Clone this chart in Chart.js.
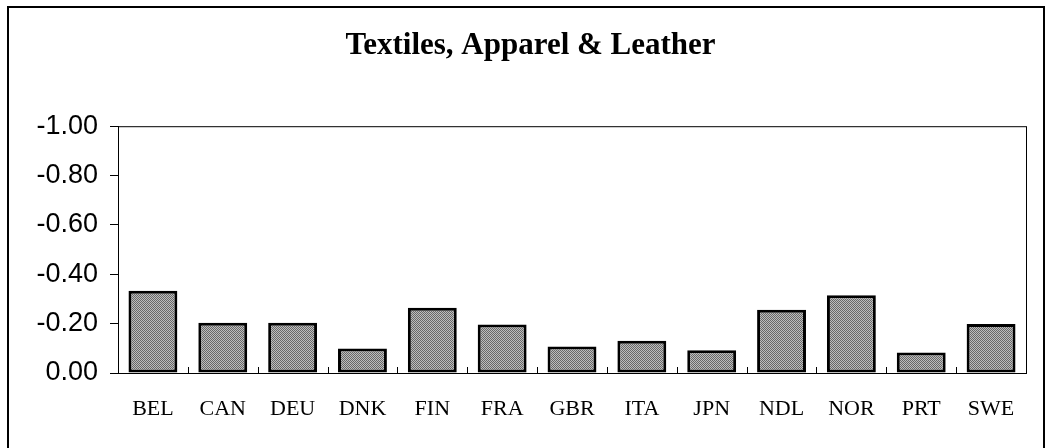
<!DOCTYPE html>
<html>
<head>
<meta charset="utf-8">
<script src="https://cdn.jsdelivr.net/npm/chart.js@4.4.0/dist/chart.umd.min.js"></script>
<style>
  html, body { margin: 0; padding: 0; background: #fff; }
  #wrap { width: 1047px; height: 448px; }
</style>
</head>
<body>
<div id="wrap"><canvas id="chart" width="1047" height="448"></canvas></div>
<script>
// datos del grafico
const countries = ['BEL', 'CAN', 'DEU', 'DNK', 'FIN', 'FRA', 'GBR', 'ITA', 'JPN', 'NDL', 'NOR', 'PRT', 'SWE'];
const values = [-0.333, -0.204, -0.204, -0.099, -0.264, -0.197, -0.107, -0.131, -0.092, -0.256, -0.315, -0.083, -0.199];
const yTicks = [-1.00, -0.80, -0.60, -0.40, -0.20, 0.00];
const chartTitle = 'Textiles, Apparel & Leather';

// trama punteada gris para las barras
function makeDither() {
    const c = document.createElement('canvas');
    c.width = 2; c.height = 2;
    const g = c.getContext('2d');
    g.fillStyle = '#bdbdbd';
    g.fillRect(0, 0, 2, 2);
    g.fillStyle = '#686868';
    g.fillRect(0, 0, 1, 1);
    g.fillRect(1, 1, 1, 1);
    return g.createPattern(c, 'repeat');
}

// marco exterior, caja del area y marcas del eje x
const framePlugin = {
    id: 'frame',
    beforeDraw(chart) {
        const ctx = chart.ctx;
        ctx.save();
        ctx.strokeStyle = '#000';
        ctx.lineWidth = 2;
        ctx.strokeRect(8, 7, 1036, 470);
        ctx.restore();
    },
    afterDatasetsDraw(chart) {
        const ctx = chart.ctx;
        const a = chart.chartArea;
        const xs = chart.scales.x;
        ctx.save();
        ctx.strokeStyle = '#000';
        ctx.lineWidth = 1;
        ctx.strokeRect(a.left + 0.5, a.top + 0.5, a.right - a.left, a.bottom - a.top);
        ctx.beginPath();
        for (let i = 0; i < countries.length - 1; i++) {
            const x = Math.round((xs.getPixelForTick(i) + xs.getPixelForTick(i + 1)) / 2) + 0.5;
            ctx.moveTo(x, a.bottom);
            ctx.lineTo(x, a.bottom - 6);
        }
        ctx.stroke();
        ctx.restore();
    }
};

const ctx = document.getElementById('chart').getContext('2d');
const myChart = new Chart(ctx, {
    type: 'bar',
    data: {
        labels: countries,
        datasets: [{
            data: values,
            backgroundColor: makeDither(),
            borderColor: '#000',
            borderWidth: 3,
            borderSkipped: false,
            barPercentage: 0.7,
            categoryPercentage: 1.0
        }]
    },
    options: {
        responsive: false,
        animation: false,
        layout: { padding: { top: 0, right: 21, bottom: 0, left: 35 } },
        plugins: {
            legend: { display: false },
            tooltip: { enabled: false },
            title: {
                display: true,
                text: chartTitle,
                color: '#000',
                font: { family: '"Liberation Serif", "Times New Roman", serif', size: 31, weight: 'bold', lineHeight: 1.2 },
                padding: { top: 27, bottom: 62 }
            }
        },
        scales: {
            x: {
                grid: { display: false },
                border: { display: true, color: '#000', width: 1 },
                ticks: {
                    color: '#000',
                    padding: 15,
                    font: { family: '"Liberation Serif", "Times New Roman", serif', size: 22 }
                },
                afterFit(scale) { scale.height = 75; }
            },
            y: {
                reverse: true,
                min: -1,
                max: 0,
                afterBuildTicks(scale) { scale.ticks = yTicks.map(v => ({ value: v })); },
                grid: { drawOnChartArea: false, tickLength: 8, color: '#000' },
                border: { display: true, color: '#000', width: 1 },
                ticks: {
                    color: '#000',
                    padding: 12,
                    font: { family: '"Liberation Sans", Arial, sans-serif', size: 27 },
                    callback: v => Number(v).toFixed(2)
                },
                afterFit(scale) { scale.width = 83; }
            }
        }
    },
    plugins: [framePlugin]
});
</script>
</body>
</html>
